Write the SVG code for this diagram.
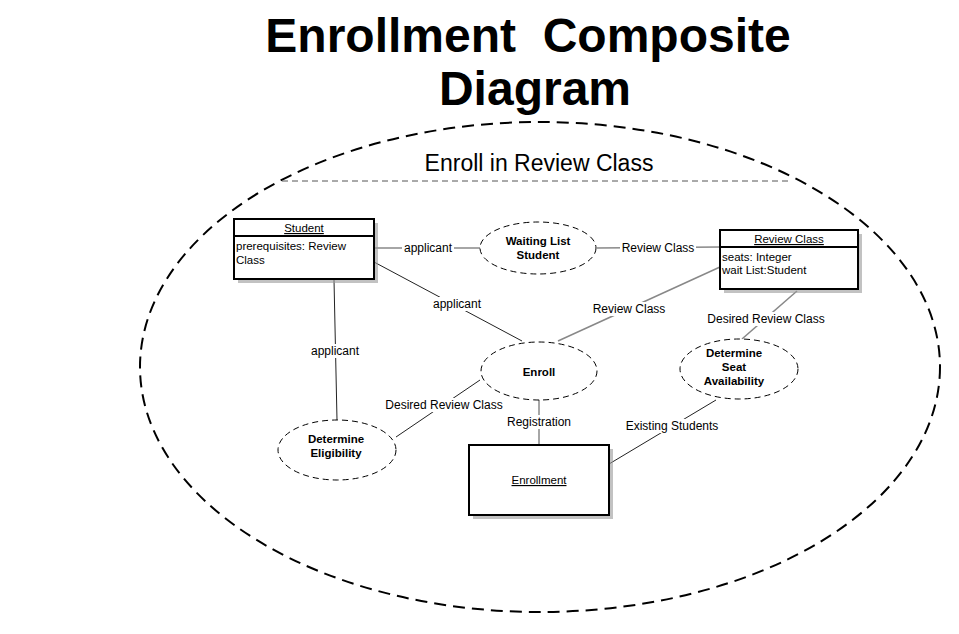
<svg xmlns="http://www.w3.org/2000/svg" width="959" height="634" viewBox="0 0 959 634">
<style>
text{font-family:"Liberation Sans",Arial,sans-serif;fill:#000}
.title{font-size:48px;font-weight:bold;text-anchor:middle;white-space:pre}
.lbl{font-size:12px;text-anchor:middle}
.attr{font-size:11.5px}
.hdr{font-size:11.5px;text-anchor:middle;text-decoration:underline}
.uc{font-size:11.5px;font-weight:bold;text-anchor:middle}
.box{fill:#fff;stroke:#000;stroke-width:2}
.shadow{fill:#999;opacity:0.6}
.uce{fill:#fff;stroke:#000;stroke-width:1;stroke-dasharray:6 4}
.lg{stroke:#888;stroke-width:1.5;fill:none}
.lb{stroke:#222;stroke-width:1;fill:none}
.bg{fill:#fff}
</style>
<rect width="959" height="634" fill="#fff"/>
<text class="title" x="528" y="52" xml:space="preserve">Enrollment  Composite</text>
<text class="title" x="535" y="105">Diagram</text>
<g id="boundary">
<ellipse cx="540" cy="367" rx="400" ry="245" fill="none" stroke="#000" stroke-width="2" stroke-dasharray="12 7"/>
<line x1="282" y1="181" x2="788" y2="181" stroke="#555" stroke-width="1" stroke-dasharray="6 4"/>
<text x="539" y="171" font-size="23" text-anchor="middle">Enroll in Review Class</text>
</g>
<g id="connectors">
<line class="lg" x1="374" y1="248" x2="480" y2="248"/>
<line class="lg" x1="597" y1="248" x2="720" y2="247"/>
<line class="lb" x1="374" y1="262" x2="522" y2="341"/>
<line class="lg" x1="720" y1="267" x2="558" y2="341"/>
<line class="lb" x1="334" y1="280" x2="337" y2="420"/>
<line class="lg" x1="797" y1="291" x2="742" y2="339"/>
<line class="lb" x1="480" y1="380" x2="396" y2="437"/>
<line class="lg" x1="539" y1="400" x2="539" y2="445"/>
<line class="lb" x1="716" y1="400" x2="609" y2="464"/>
<rect class="bg" x="402" y="241" width="52" height="14"/>
<text class="lbl" x="428" y="252">applicant</text>
<rect class="bg" x="620" y="241" width="76" height="14"/>
<text class="lbl" x="658" y="252">Review Class</text>
<rect class="bg" x="430" y="297" width="54" height="14"/>
<text class="lbl" x="457" y="308">applicant</text>
<rect class="bg" x="591" y="302" width="76" height="14"/>
<text class="lbl" x="629" y="313">Review Class</text>
<rect class="bg" x="308" y="344" width="54" height="14"/>
<text class="lbl" x="335" y="355">applicant</text>
<rect class="bg" x="704" y="312" width="124" height="14"/>
<text class="lbl" x="766" y="323">Desired Review Class</text>
<rect class="bg" x="382" y="398" width="124" height="14"/>
<text class="lbl" x="444" y="409">Desired Review Class</text>
<rect class="bg" x="504" y="415" width="70" height="14"/>
<text class="lbl" x="539" y="426">Registration</text>
<rect class="bg" x="624" y="419" width="96" height="14"/>
<text class="lbl" x="672" y="430">Existing Students</text>
</g>
<g id="student">
<rect class="shadow" x="238" y="223" width="140" height="60"/>
<rect class="box" x="234" y="219" width="140" height="60"/>
<line x1="234" y1="236" x2="374" y2="236" stroke="#000" stroke-width="2"/>
<text class="hdr" x="304" y="232">Student</text>
<text class="attr" x="236" y="250">prerequisites: Review</text>
<text class="attr" x="236" y="264">Class</text>
</g>
<g id="review-class">
<rect class="shadow" x="724" y="234" width="138" height="59"/>
<rect class="box" x="720" y="230" width="138" height="59"/>
<line x1="720" y1="247" x2="858" y2="247" stroke="#000" stroke-width="2"/>
<text class="hdr" x="789" y="243">Review Class</text>
<text class="attr" x="722" y="261">seats: Integer</text>
<text class="attr" x="722" y="274">wait List:Student</text>
</g>
<g id="enrollment">
<rect class="shadow" x="473" y="449" width="140" height="70"/>
<rect class="box" x="469" y="445" width="140" height="70"/>
<text class="hdr" x="539" y="484">Enrollment</text>
</g>
<g id="waiting-list">
<ellipse class="uce" cx="538" cy="248" rx="58" ry="26"/>
<text class="uc" x="538" y="245">Waiting List</text>
<text class="uc" x="538" y="259">Student</text>
</g>
<g id="enroll">
<ellipse class="uce" cx="539" cy="371" rx="58" ry="29"/>
<text class="uc" x="539" y="376">Enroll</text>
</g>
<g id="seat-availability">
<ellipse class="uce" cx="739" cy="369" rx="59" ry="30"/>
<text class="uc" x="734" y="357">Determine</text>
<text class="uc" x="734" y="371">Seat</text>
<text class="uc" x="734" y="385">Availability</text>
</g>
<g id="eligibility">
<ellipse class="uce" cx="337" cy="450" rx="59" ry="30"/>
<text class="uc" x="336" y="443">Determine</text>
<text class="uc" x="336" y="457">Eligibility</text>
</g>
</svg>
